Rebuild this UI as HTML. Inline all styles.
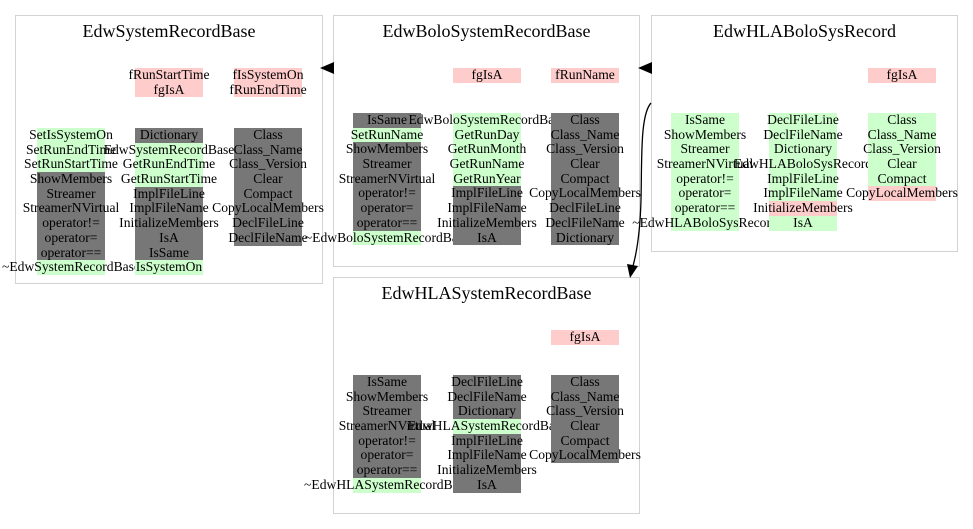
<!DOCTYPE html>
<html><head><meta charset="utf-8"><style>
body{margin:0;width:973px;height:529px;background:#fff;position:relative;overflow:hidden;font-family:"Liberation Serif",serif;font-size:13.6px;color:#000}
.cl{position:absolute;border:1px solid #d3d3d3;box-sizing:border-box}
.t{position:absolute;font-size:18px;width:100%;text-align:center;top:5px}
.col{position:absolute;width:68px}
.r{height:14.7px;line-height:14.7px;display:flex;justify-content:center;white-space:nowrap}
.g{background:#777}.n{background:#ccffcc}.p{background:#ffcccc}.w{background:transparent}
</style></head><body>
<div class="cl" style="left:15px;top:15px;width:308px;height:269px"><div class="t">EdwSystemRecordBase</div></div>
<div class="cl" style="left:333px;top:15px;width:307px;height:252px"><div class="t">EdwBoloSystemRecordBase</div></div>
<div class="cl" style="left:651px;top:15px;width:307px;height:237px"><div class="t">EdwHLABoloSysRecord</div></div>
<div class="cl" style="left:333px;top:277px;width:307px;height:237px"><div class="t">EdwHLASystemRecordBase</div></div>

<!-- A -->
<div class="col" style="left:135px;top:68px"><div class="r p">fRunStartTime</div><div class="r p">fgIsA</div></div>
<div class="col" style="left:234px;top:68px"><div class="r p">fIsSystemOn</div><div class="r p">fRunEndTime</div></div>
<div class="col" style="left:37px;top:128px">
<div class="r n">SetIsSystemOn</div><div class="r n">SetRunEndTime</div><div class="r n">SetRunStartTime</div><div class="r g">ShowMembers</div><div class="r g">Streamer</div><div class="r g">StreamerNVirtual</div><div class="r g">operator!=</div><div class="r g">operator=</div><div class="r g">operator==</div><div class="r n">~EdwSystemRecordBase</div></div>
<div class="col" style="left:135px;top:128px">
<div class="r g">Dictionary</div><div class="r n">EdwSystemRecordBase</div><div class="r n">GetRunEndTime</div><div class="r n">GetRunStartTime</div><div class="r g">ImplFileLine</div><div class="r g">ImplFileName</div><div class="r g">InitializeMembers</div><div class="r g">IsA</div><div class="r g">IsSame</div><div class="r n">IsSystemOn</div></div>
<div class="col" style="left:234px;top:128px">
<div class="r g">Class</div><div class="r g">Class_Name</div><div class="r g">Class_Version</div><div class="r g">Clear</div><div class="r g">Compact</div><div class="r g">CopyLocalMembers</div><div class="r g">DeclFileLine</div><div class="r g">DeclFileName</div></div>

<!-- B -->
<div class="col" style="left:453px;top:68px"><div class="r p">fgIsA</div></div>
<div class="col" style="left:551px;top:68px"><div class="r p">fRunName</div></div>
<div class="col" style="left:353px;top:113px">
<div class="r g">IsSame</div><div class="r n">SetRunName</div><div class="r g">ShowMembers</div><div class="r g">Streamer</div><div class="r g">StreamerNVirtual</div><div class="r g">operator!=</div><div class="r g">operator=</div><div class="r g">operator==</div><div class="r n">~EdwBoloSystemRecordBase</div></div>
<div class="col" style="left:453px;top:113px">
<div class="r n">EdwBoloSystemRecordBase</div><div class="r n">GetRunDay</div><div class="r n">GetRunMonth</div><div class="r n">GetRunName</div><div class="r n">GetRunYear</div><div class="r g">ImplFileLine</div><div class="r g">ImplFileName</div><div class="r g">InitializeMembers</div><div class="r g">IsA</div></div>
<div class="col" style="left:551px;top:113px">
<div class="r g">Class</div><div class="r g">Class_Name</div><div class="r g">Class_Version</div><div class="r g">Clear</div><div class="r g">Compact</div><div class="r g">CopyLocalMembers</div><div class="r g">DeclFileLine</div><div class="r g">DeclFileName</div><div class="r g">Dictionary</div></div>

<!-- C -->
<div class="col" style="left:868px;top:68px"><div class="r p">fgIsA</div></div>
<div class="col" style="left:671px;top:113px">
<div class="r n">IsSame</div><div class="r n">ShowMembers</div><div class="r n">Streamer</div><div class="r n">StreamerNVirtual</div><div class="r n">operator!=</div><div class="r n">operator=</div><div class="r n">operator==</div><div class="r n">~EdwHLABoloSysRecord</div></div>
<div class="col" style="left:769px;top:113px">
<div class="r n">DeclFileLine</div><div class="r n">DeclFileName</div><div class="r n">Dictionary</div><div class="r n">EdwHLABoloSysRecord</div><div class="r n">ImplFileLine</div><div class="r n">ImplFileName</div><div class="r p">InitializeMembers</div><div class="r n">IsA</div></div>
<div class="col" style="left:868px;top:113px">
<div class="r n">Class</div><div class="r n">Class_Name</div><div class="r n">Class_Version</div><div class="r n">Clear</div><div class="r n">Compact</div><div class="r p">CopyLocalMembers</div></div>

<!-- D -->
<div class="col" style="left:551px;top:330px"><div class="r p">fgIsA</div></div>
<div class="col" style="left:353px;top:375px">
<div class="r g">IsSame</div><div class="r g">ShowMembers</div><div class="r g">Streamer</div><div class="r g">StreamerNVirtual</div><div class="r g">operator!=</div><div class="r g">operator=</div><div class="r g">operator==</div><div class="r n">~EdwHLASystemRecordBase</div></div>
<div class="col" style="left:453px;top:375px">
<div class="r g">DeclFileLine</div><div class="r g">DeclFileName</div><div class="r g">Dictionary</div><div class="r n">EdwHLASystemRecordBase</div><div class="r g">ImplFileLine</div><div class="r g">ImplFileName</div><div class="r g">InitializeMembers</div><div class="r g">IsA</div></div>
<div class="col" style="left:551px;top:375px">
<div class="r g">Class</div><div class="r g">Class_Name</div><div class="r g">Class_Version</div><div class="r g">Clear</div><div class="r g">Compact</div><div class="r g">CopyLocalMembers</div></div>

<svg width="973" height="529" style="position:absolute;left:0;top:0" xmlns="http://www.w3.org/2000/svg">
<polygon points="320,68 334,62 334,74" fill="#000"/>
<polygon points="638,68 652,62 652,74" fill="#000"/>
<path d="M651,103 C640,115 642,160 641,200 C640,235 636,255 633,266" fill="none" stroke="#000" stroke-width="1.3"/>
<polygon points="630,278 627,264 638,266" fill="#000"/>
</svg>
</body></html>
